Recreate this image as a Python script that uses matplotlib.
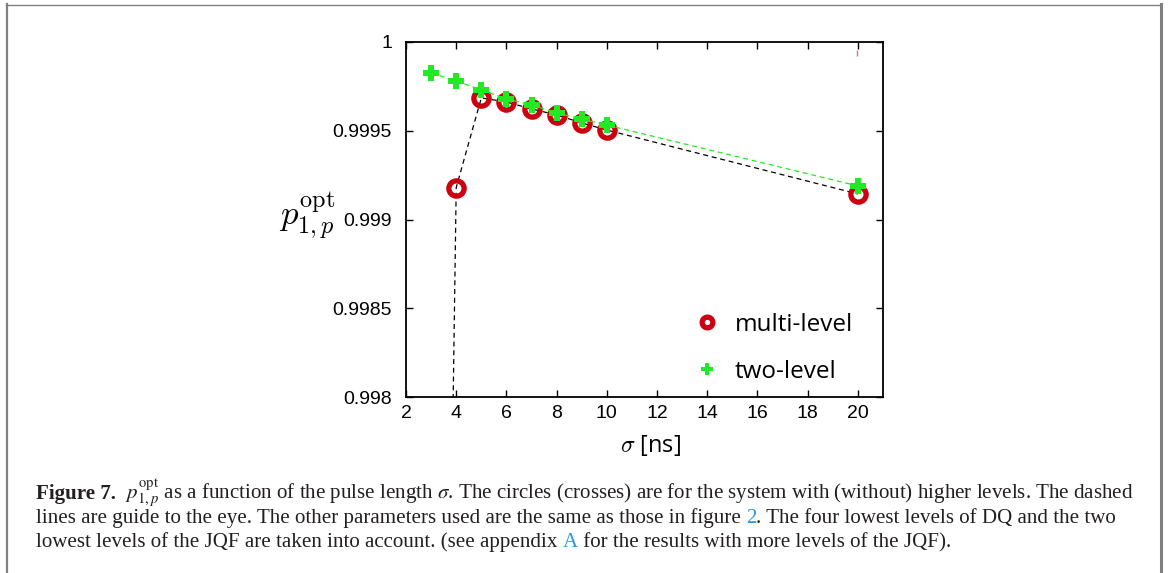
import matplotlib
matplotlib.use("Agg")
import matplotlib.pyplot as plt

# Datos
sigma_multi = [3, 4, 5, 6, 7, 8, 9, 10, 20]
p_multi = [0.98935, 0.99918, 0.999685, 0.999662, 0.999623, 0.999589,
           0.999544, 0.999504, 0.999144]

sigma_two = [3, 4, 5, 6, 7, 8, 9, 10, 20]
p_two = [0.999825, 0.99978, 0.99973, 0.999679, 0.999645, 0.9996,
         0.999566, 0.999532, 0.999189]

# marca roja suelta arriba a la derecha
stray_x = [19.95]
stray_y = [0.999938]

x_ticks = [2, 4, 6, 8, 10, 12, 14, 16, 18, 20]
y_ticks = [0.998, 0.9985, 0.999, 0.9995, 1.0]
y_ticklabels = ['0.998', '0.9985', '0.999', '0.9995', '1']

rojo = '#cc0010'
verde = '#22ea22'

fig = plt.figure(figsize=(11.74, 5.73), dpi=100)

# Marco gris
fig.add_artist(plt.Line2D([6.5 / 1174, 6.5 / 1174], [0, 1 - 4 / 573],
                          color='#808080', lw=1.6))
fig.add_artist(plt.Line2D([6 / 1174, 1161 / 1174], [1 - 4.5 / 573, 1 - 4.5 / 573],
                          color='#808080', lw=1.0))
fig.add_artist(plt.Line2D([1161 / 1174, 1161 / 1174], [0, 1 - 4 / 573],
                          color='#808080', lw=2.2))

ax = fig.add_axes([406 / 1174, 1 - 397 / 573, 477 / 1174, 355 / 573])

ax.plot(sigma_multi, p_multi, linestyle=(0, (4, 3)), color='black', lw=0.9,
        zorder=2)
ax.plot(sigma_multi, p_multi, linestyle='none', marker='o', ms=11,
        mfc='none', mec=rojo, mew=3.8, label='multi-level', zorder=3)
ax.plot(sigma_two, p_two, linestyle=(0, (4, 3)), color=verde, lw=0.9,
        zorder=4)
ax.plot(sigma_two, p_two, linestyle='none', marker='P', ms=12,
        color=verde, mec=verde, mew=0, label='two-level', zorder=5)
ax.plot(stray_x, stray_y, linestyle='none', marker='|', ms=4,
        color='#e8707a', mew=1, zorder=5)

ax.set_xlim(2, 21)
ax.set_ylim(0.998, 1.0)
ax.set_xticks(x_ticks)
ax.set_yticks(y_ticks)
ax.set_yticklabels(y_ticklabels)
ax.tick_params(direction='in', top=True, right=True, length=5, width=1,
               labelsize=14)
ax.tick_params(axis='y', pad=10)
ax.tick_params(axis='x', pad=6)
for lbl in ax.get_xticklabels() + ax.get_yticklabels():
    lbl.set_fontfamily('Liberation Sans')
for s in ax.spines.values():
    s.set_linewidth(1.3)

leg = ax.legend(loc='upper left', frameon=False, markerscale=0.7,
                prop={'family': 'Open Sans', 'size': 17.5},
                labelspacing=0.95, handletextpad=0.15, borderaxespad=0,
                bbox_to_anchor=((673 - 406) / 477, (397 - 303) / 355))

fig.text(307 / 1174, 1 - 215 / 573, r'$p_{1,p}^{\rm opt}$', fontsize=25,
         ha='center', va='center', math_fontfamily='cm')
fig.text(650 / 1174, 1 - 446 / 573, r'$\sigma$ [ns]', fontsize=17,
         ha='center', va='center', family='Open Sans',
         math_fontfamily='cm')

# Leyenda de la figura (caption)
renderer = fig.canvas.get_renderer()
azul = '#2b9bd8'
negro = '#231f20'
cap_size = 15.1


def escribir_linea(trozos, x0, y0):
    x = x0
    for texto, color, peso in trozos:
        t = fig.text(x / 1174, 1 - y0 / 573, texto, fontsize=cap_size,
                     family='Liberation Serif', color=color, weight=peso,
                     va='baseline', ha='left', math_fontfamily='stix')
        bb = t.get_window_extent(renderer)
        x = x + bb.width


escribir_linea([
    ('Figure 7.', negro, 'bold'),
    (r'  $p_{1,p}^{\rm opt}$ as a function of the pulse length $\sigma$. '
     'The circles (crosses) are for the system with (without) higher levels. '
     'The dashed', negro, 'normal'),
], 36, 499)
escribir_linea([
    ('lines are guide to the eye. The other parameters used are the same '
     'as those in figure ', negro, 'normal'),
    ('2', azul, 'normal'),
    ('. The four lowest levels of DQ and the two', negro, 'normal'),
], 36, 523)
escribir_linea([
    ('lowest levels of the JQF are taken into account. (see appendix ',
     negro, 'normal'),
    ('A', azul, 'normal'),
    (' for the results with more levels of the JQF).', negro, 'normal'),
], 36, 547)

fig.savefig('out.png', dpi=100)
